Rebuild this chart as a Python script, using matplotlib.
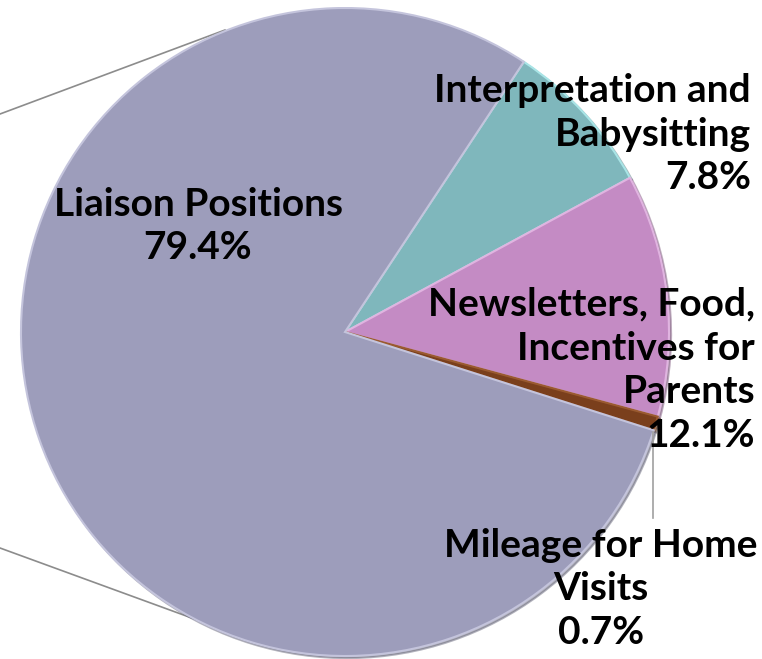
import matplotlib
matplotlib.use("Agg")
import matplotlib.pyplot as plt

# budget shares (%)
categories = ["Interpretation and\nBabysitting", "Newsletters, Food,\nIncentives for\nParents",
              "Mileage for Home\nVisits", "Liaison Positions"]
shares = [7.8, 12.1, 0.7, 79.4]
colors = ["#7fb7bc", "#c48bc4", "#7a3f1c", "#9d9dbb"]
edges = ["#a8e4e6", "#e0b4e0", "#9a5a30", "#c4c4dc"]

fig = plt.figure(figsize=(7.62, 6.59), dpi=100)
ax = fig.add_axes([0, 0, 1, 1])

# connector lines coming in from the left edge
ax.plot([0, 225], [659 - 114, 659 - 30], color="#8c8c8c", lw=1.2, zorder=0)
ax.plot([0, 200], [659 - 548, 659 - 621], color="#8c8c8c", lw=1.2, zorder=0)

wedges, _ = ax.pie(shares, colors=colors, startangle=56.5, counterclock=False,
                   center=(345, 327), radius=324, frame=True,
                   wedgeprops=dict(linewidth=1.5),
                   shadow=dict(ox=1.5, oy=-1.5, shade=0.35))
for w, ec in zip(wedges, edges):
    w.set_edgecolor(ec)
ax.set_xlim(0, 762)
ax.set_ylim(0, 659)
ax.set_aspect("equal")
ax.axis("off")

font = dict(family="Lato", fontweight="bold", fontsize=28, color="black",
            linespacing=1.3)
pct = [f"{v:.1f}%" for v in shares]

ax.text(751, 659 - 134, f"{categories[0]}\n{pct[0]}", ha="right", va="center", **font)
ax.text(755, 659 - 370, f"{categories[1]}\n{pct[1]}", ha="right", va="center", **font)
ax.text(601, 659 - 589, f"{categories[2]}\n{pct[2]}", ha="center", va="center", **font)
ax.text(198, 659 - 226, f"{categories[3]}\n{pct[3]}", ha="center", va="center", **font)

# leader line for the thin slice
ax.plot([653, 653], [659 - 432, 659 - 518], color="#a0a0a0", lw=1.2)

fig.savefig("out.png", dpi=100)
